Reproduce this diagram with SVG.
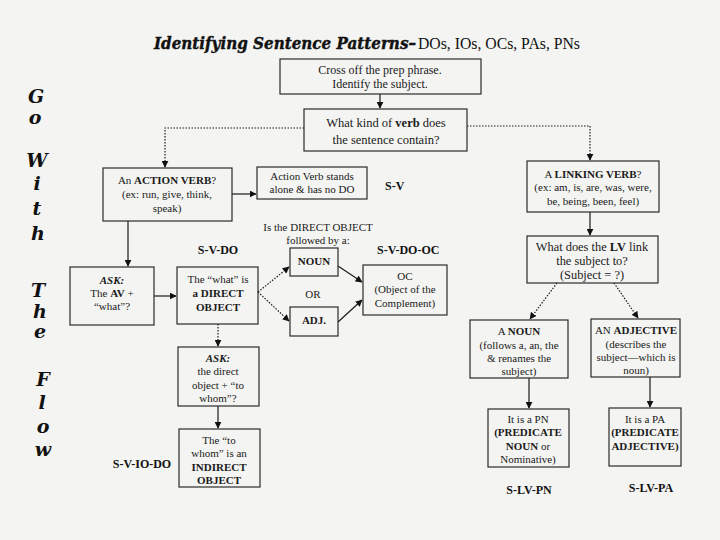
<svg xmlns="http://www.w3.org/2000/svg" width="720" height="540" viewBox="0 0 720 540">
<defs>
<marker id="ah" viewBox="0 0 10 10" refX="9" refY="5" markerWidth="7" markerHeight="7" orient="auto" markerUnits="userSpaceOnUse">
<path d="M0,0 L10,5 L0,10 z" fill="#111"/>
</marker>
<style>
.box{fill:none;stroke:#2a2a2a;stroke-width:1.2}
.t{font-family:"Liberation Serif","DejaVu Serif",serif;font-size:11px;fill:#1a1a1a;text-anchor:middle}
.big{font-size:12.5px}
.m{font-size:12px}
.m13{font-size:12.4px}
.b{font-weight:bold}
.i{font-style:italic}
.lbl{font-family:"Liberation Serif",serif;font-size:12px;font-weight:bold;fill:#111}
.ln{fill:none;stroke:#1a1a1a;stroke-width:1.2}
.dot{stroke-dasharray:1.5 1.5}
.flow{font-family:"DejaVu Serif",serif;font-weight:bold;font-style:italic;font-size:19px;fill:#111;text-anchor:middle}
</style>
</defs>
<rect x="0" y="0" width="720" height="540" fill="#f4f4f2"/>

<g id="title">
<text x="154" y="49" font-family="DejaVu Serif, serif" font-weight="bold" font-style="italic" font-size="16" fill="#111" stroke="#111" stroke-width="0.4" textLength="262" lengthAdjust="spacingAndGlyphs">Identifying Sentence Patterns–</text>
<text x="418" y="49" font-family="Liberation Serif, serif" font-size="16.5" fill="#111" textLength="162" lengthAdjust="spacingAndGlyphs">DOs, IOs, OCs, PAs, PNs</text>
</g>

<g id="go-with-the-flow">
<text class="flow" x="36" y="103">G</text>
<text class="flow" x="35" y="124">o</text>
<text class="flow" x="37" y="167">W</text>
<text class="flow" x="37" y="190">i</text>
<text class="flow" x="37" y="215">t</text>
<text class="flow" x="38" y="240">h</text>
<text class="flow" x="38" y="297">T</text>
<text class="flow" x="40" y="318">h</text>
<text class="flow" x="40" y="338">e</text>
<text class="flow" x="43" y="386">F</text>
<text class="flow" x="42" y="409">l</text>
<text class="flow" x="43" y="433">o</text>
<text class="flow" x="43" y="456">w</text>
</g>

<g id="connectors">
<line class="ln" x1="380" y1="94" x2="380" y2="108" marker-end="url(#ah)"/>
<polyline class="ln dot" points="304,128 165,128 165,167" marker-end="url(#ah)"/>
<polyline class="ln dot" points="467,126 590,126 590,160" marker-end="url(#ah)"/>
<line class="ln" x1="232" y1="194" x2="256" y2="194" marker-end="url(#ah)"/>
<line class="ln" x1="128" y1="221" x2="128" y2="266" marker-end="url(#ah)"/>
<line class="ln" x1="154" y1="296" x2="176" y2="296" marker-end="url(#ah)"/>
<line class="ln dot" x1="258" y1="292" x2="289" y2="267" marker-end="url(#ah)"/>
<line class="ln dot" x1="258" y1="292" x2="289" y2="321" marker-end="url(#ah)"/>
<line class="ln" x1="338" y1="266" x2="362" y2="282" marker-end="url(#ah)"/>
<line class="ln" x1="338" y1="322" x2="362" y2="300" marker-end="url(#ah)"/>
<line class="ln dot" x1="218" y1="324" x2="218" y2="346" marker-end="url(#ah)"/>
<line class="ln" x1="218" y1="406" x2="218" y2="428" marker-end="url(#ah)"/>
<line class="ln" x1="590" y1="212" x2="590" y2="235" marker-end="url(#ah)"/>
<line class="ln dot" x1="557" y1="283" x2="530" y2="319" marker-end="url(#ah)"/>
<line class="ln dot" x1="614" y1="283" x2="638" y2="318" marker-end="url(#ah)"/>
<line class="ln" x1="529" y1="378" x2="529" y2="408" marker-end="url(#ah)"/>
<line class="ln" x1="650" y1="377" x2="650" y2="407" marker-end="url(#ah)"/>
</g>

<g id="n-cross">
<rect class="box" x="280" y="59" width="201" height="35"/>
<text class="t m" x="380" y="74">Cross off the prep phrase.</text>
<text class="t m" x="380" y="88">Identify the subject.</text>
</g>

<g id="n-verb">
<rect class="box" x="304" y="109" width="163" height="42"/>
<text class="t big" x="386" y="127">What kind of <tspan class="b">verb</tspan> does</text>
<text class="t big" x="386" y="144">the sentence contain?</text>
</g>

<g id="n-action">
<rect class="box" x="103" y="168" width="129" height="53"/>
<text class="t" x="167" y="184">An <tspan class="b">ACTION VERB</tspan>?</text>
<text class="t" x="167" y="198">(ex: run, give, think,</text>
<text class="t" x="167" y="212">speak)</text>
</g>

<g id="n-alone">
<rect class="box" x="257" y="167" width="110" height="32"/>
<text class="t" x="312" y="180">Action Verb stands</text>
<text class="t" x="312" y="193">alone &amp; has no DO</text>
</g>
<text class="lbl" x="385" y="190">S-V</text>

<g id="n-ask-av">
<rect class="box" x="70" y="267" width="84" height="58"/>
<text class="t b i" x="112" y="284">ASK:</text>
<text class="t" x="112" y="297">The <tspan class="b">AV</tspan> +</text>
<text class="t" x="112" y="310">“what”?</text>
</g>

<g id="n-do">
<rect class="box" x="177" y="267" width="81" height="57"/>
<text class="t" x="218" y="283">The “what” is</text>
<text class="t b" x="218" y="297">a DIRECT</text>
<text class="t b" x="218" y="311">OBJECT</text>
</g>
<text class="lbl" x="218" y="254" text-anchor="middle">S-V-DO</text>

<text class="t" x="318" y="231">Is the DIRECT OBJECT</text>
<text class="t" x="318" y="244">followed by a:</text>

<g id="n-noun">
<rect class="box" x="290" y="248" width="48" height="28"/>
<text class="t b" x="314" y="265">NOUN</text>
</g>
<text class="t" x="313" y="298">OR</text>
<g id="n-adj">
<rect class="box" x="290" y="307" width="48" height="29"/>
<text class="t b" x="314" y="324">ADJ.</text>
</g>

<g id="n-oc">
<rect class="box" x="363" y="265" width="84" height="50"/>
<text class="t" x="405" y="280">OC</text>
<text class="t" x="405" y="293">(Object of the</text>
<text class="t" x="405" y="307">Complement)</text>
</g>
<text class="lbl" x="377" y="254">S-V-DO-OC</text>

<g id="n-ask-io">
<rect class="box" x="178" y="347" width="81" height="59"/>
<text class="t b i" x="218" y="362">ASK:</text>
<text class="t" x="218" y="375">the direct</text>
<text class="t" x="218" y="389">object + “to</text>
<text class="t" x="218" y="402">whom”?</text>
</g>

<g id="n-io">
<rect class="box" x="179" y="429" width="81" height="58"/>
<text class="t" x="219" y="444">The “to</text>
<text class="t" x="219" y="457">whom” is an</text>
<text class="t b" x="219" y="471">INDIRECT</text>
<text class="t b" x="219" y="484">OBJECT</text>
</g>
<text class="lbl" x="142" y="468" text-anchor="middle">S-V-IO-DO</text>

<g id="n-linking">
<rect class="box" x="527" y="161" width="132" height="51"/>
<text class="t" x="593" y="178">A <tspan class="b">LINKING VERB</tspan>?</text>
<text class="t" x="593" y="191">(ex: am, is, are, was, were,</text>
<text class="t" x="593" y="205">be, being, been, feel)</text>
</g>

<g id="n-lvlink">
<rect class="box" x="527" y="236" width="131" height="47"/>
<text class="t m13" x="592" y="251">What does the <tspan class="b">LV</tspan> link</text>
<text class="t m13" x="592" y="265">the subject to?</text>
<text class="t m13" x="592" y="279">(Subject = ?)</text>
</g>

<g id="n-anoun">
<rect class="box" x="470" y="320" width="98" height="58"/>
<text class="t" x="519" y="335">A <tspan class="b">NOUN</tspan></text>
<text class="t" x="519" y="349">(follows a, an, the</text>
<text class="t" x="519" y="362">&amp; renames the</text>
<text class="t" x="519" y="375">subject)</text>
</g>

<g id="n-aadj">
<rect class="box" x="591" y="319" width="89" height="58"/>
<text class="t" x="636" y="334">AN <tspan class="b">ADJECTIVE</tspan></text>
<text class="t" x="636" y="348">(describes the</text>
<text class="t" x="636" y="361">subject—which is</text>
<text class="t" x="636" y="374">noun)</text>
</g>

<g id="n-pn">
<rect class="box" x="488" y="409" width="81" height="58"/>
<text class="t" x="528" y="423">It is a PN</text>
<text class="t b" x="528" y="436">(PREDICATE</text>
<text class="t" x="528" y="450"><tspan class="b">NOUN</tspan> or</text>
<text class="t" x="528" y="463">Nominative)</text>
</g>
<text class="lbl" x="529" y="494" text-anchor="middle">S-LV-PN</text>

<g id="n-pa">
<rect class="box" x="609" y="408" width="72" height="58"/>
<text class="t" x="645" y="423">It is a PA</text>
<text class="t b" x="645" y="436">(PREDICATE</text>
<text class="t b" x="645" y="450">ADJECTIVE)</text>
</g>
<text class="lbl" x="651" y="492" text-anchor="middle">S-LV-PA</text>
</svg>
